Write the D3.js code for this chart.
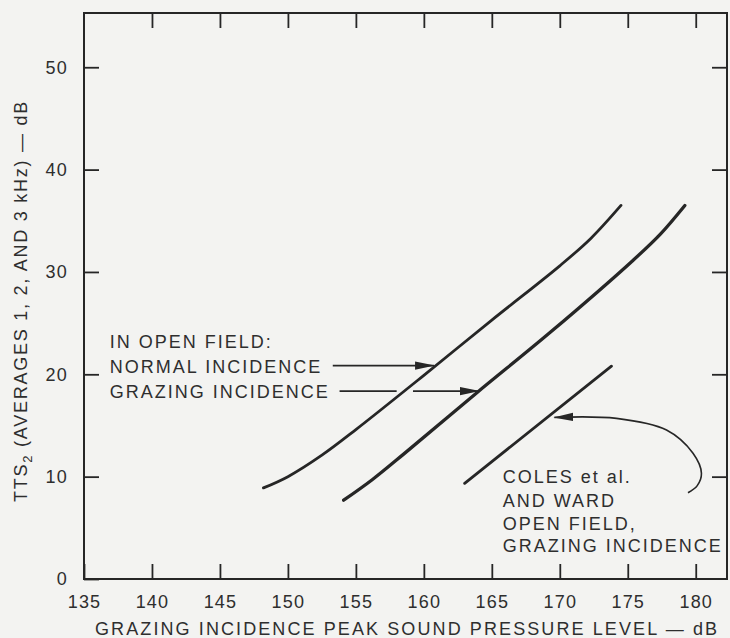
<!DOCTYPE html>
<html>
<head>
<meta charset="utf-8">
<script src="https://cdn.jsdelivr.net/npm/d3@7"></script>
<style>
  html, body { margin: 0; padding: 0; background: #f3f3f1; }
  svg { display: block; }
  text { font-family: "Liberation Sans", Arial, Helvetica, sans-serif; fill: #2e2e2e; }
</style>
</head>
<body>
<svg id="chart" width="730" height="638"></svg>
<script>
// ---- data ----
const xTicks = [135, 140, 145, 150, 155, 160, 165, 170, 175, 180];
const yTicks = [0, 10, 20, 30, 40, 50];

// Normal incidence (open field)
const normalX = [148.2, 150.0, 152.5, 155.0, 160.0, 165.0, 170.0, 172.3, 174.5];
const normalY = [8.9, 10.0, 12.1, 14.6, 19.9, 25.3, 30.6, 33.3, 36.5];

// Grazing incidence (open field)
const grazingX = [154.1, 156.2, 158.6, 163.9, 169.3, 175.4, 177.4, 179.2];
const grazingY = [7.7, 9.7, 12.3, 18.2, 24.1, 31.15, 33.7, 36.5];

// Coles et al. and Ward, open field, grazing incidence
const colesX = [163.0, 173.8];
const colesY = [9.35, 20.8];

// annotation labels
const labelLeftLines = ["IN OPEN FIELD:", "NORMAL INCIDENCE", "GRAZING INCIDENCE"];
const labelLeftX = 136.9;
const labelLeftY = [22.56, 20.12, 17.68];
const labelRightLines = ["COLES et al.", "AND WARD", "OPEN FIELD,", "GRAZING INCIDENCE"];
const labelRightX = 165.8;
const labelRightY = [9.4, 7.0, 4.8, 2.65];

// annotation arrows (data units)
const normalArrowX = [153.3, 160.75];
const normalArrowY = [20.85, 20.85];
const grazingArrowSegX = [[153.8, 158.0], [159.2, 164.05]];
const grazingArrowY = 18.36;
const colesArrowX = [179.43, 180.1, 180.42, 179.8, 177.85, 174.17, 169.6];
const colesArrowY = [8.43, 9.1, 10.32, 12.28, 14.55, 15.69, 15.79];

const xTitle = "GRAZING INCIDENCE PEAK SOUND PRESSURE LEVEL — dB";

// ---- drawing ----
const svg = d3.select("#chart");
const ink = "#262626";
const x = d3.scaleLinear().domain([135, 182.3]).range([84, 727]);
const y = d3.scaleLinear().domain([0, 55.3]).range([579, 13]);

// arrow marker
svg.append("defs").append("marker")
  .attr("id", "ah")
  .attr("markerUnits", "userSpaceOnUse")
  .attr("viewBox", "0 -5 20 10")
  .attr("refX", 19).attr("refY", 0)
  .attr("markerWidth", 20).attr("markerHeight", 10)
  .attr("orient", "auto")
  .append("path").attr("d", "M0,-4.2 L20,0 L0,4.2 Z").attr("fill", ink);

const tickLen = 15;
function styleAxis(g) {
  g.select(".domain").remove();
  g.selectAll(".tick line").attr("stroke", ink).attr("stroke-width", 1.8);
  g.selectAll(".tick text")
    .attr("fill", "#2e2e2e")
    .style("font-size", "18px")
    .style("letter-spacing", "1.2px")
    .style("font-family", '"Liberation Sans", Arial, sans-serif');
}

svg.append("g").attr("transform", `translate(0,${y(0)})`)
  .call(d3.axisBottom(x).tickValues(xTicks).tickSizeInner(-tickLen).tickSizeOuter(0).tickPadding(16).tickFormat(d3.format("d")))
  .call(styleAxis);
svg.append("g").attr("transform", `translate(0,${y.range()[1]})`)
  .call(d3.axisTop(x).tickValues(xTicks.slice(1)).tickSizeInner(-tickLen).tickSizeOuter(0).tickFormat(""))
  .call(styleAxis);
svg.append("g").attr("transform", `translate(${x(135)},0)`)
  .call(d3.axisLeft(y).tickValues(yTicks).tickSizeInner(-tickLen).tickSizeOuter(0).tickPadding(16).tickFormat(d3.format("d")))
  .call(styleAxis);
svg.append("g").attr("transform", `translate(${x.range()[1]},0)`)
  .call(d3.axisRight(y).tickValues(yTicks.slice(1)).tickSizeInner(-tickLen).tickSizeOuter(0).tickFormat(""))
  .call(styleAxis);

// frame
svg.append("rect")
  .attr("x", x.range()[0]).attr("y", y.range()[1])
  .attr("width", x.range()[1] - x.range()[0]).attr("height", y.range()[0] - y.range()[1])
  .attr("fill", "none").attr("stroke", ink).attr("stroke-width", 2);

// curves
const line = d3.line().x(d => x(d[0])).y(d => y(d[1])).curve(d3.curveCatmullRom.alpha(0.5));
function drawCurve(xs, ys, w) {
  svg.append("path").datum(xs.map((v, i) => [v, ys[i]]))
    .attr("d", line).attr("fill", "none").attr("stroke", ink)
    .attr("stroke-width", w).attr("stroke-linecap", "round");
}
drawCurve(normalX, normalY, 2.8);
drawCurve(grazingX, grazingY, 3.3);
drawCurve(colesX, colesY, 2.8);

// arrows
svg.append("line")
  .attr("x1", x(normalArrowX[0])).attr("x2", x(normalArrowX[1]))
  .attr("y1", y(normalArrowY[0])).attr("y2", y(normalArrowY[1]))
  .attr("stroke", ink).attr("stroke-width", 1.6).attr("marker-end", "url(#ah)");
grazingArrowSegX.forEach((s, i) => {
  svg.append("line")
    .attr("x1", x(s[0])).attr("x2", x(s[1]))
    .attr("y1", y(grazingArrowY)).attr("y2", y(grazingArrowY))
    .attr("stroke", ink).attr("stroke-width", 1.6)
    .attr("marker-end", i === grazingArrowSegX.length - 1 ? "url(#ah)" : null);
});
svg.append("path").datum(colesArrowX.map((v, i) => [v, colesArrowY[i]]))
  .attr("d", d3.line().x(d => x(d[0])).y(d => y(d[1])).curve(d3.curveCatmullRom.alpha(0.5)))
  .attr("fill", "none").attr("stroke", ink).attr("stroke-width", 1.6)
  .attr("marker-end", "url(#ah)");

// labels
function drawLabels(lines, lx, ly) {
  lines.forEach((t, i) => {
    svg.append("text").attr("x", x(lx)).attr("y", y(ly[i]))
      .style("font-size", "18px").style("letter-spacing", "2px").text(t);
  });
}
drawLabels(labelLeftLines, labelLeftX, labelLeftY);
drawLabels(labelRightLines, labelRightX, labelRightY);

// axis titles
svg.append("text")
  .attr("x", 95).attr("y", 635)
  .attr("textLength", 622).attr("lengthAdjust", "spacing")
  .style("font-size", "18px").text(xTitle);

const yt = svg.append("text")
  .attr("transform", "translate(27,502) rotate(-90)")
  .attr("x", 0).attr("y", 0)
  .style("font-size", "18px").style("letter-spacing", "1.75px");
yt.append("tspan").text("TTS");
yt.append("tspan").attr("dy", 5).style("font-size", "13px").text("2");
yt.append("tspan").attr("dy", -5).text(" (AVERAGES 1, 2, AND 3 kHz) — dB");
</script>
</body>
</html>
